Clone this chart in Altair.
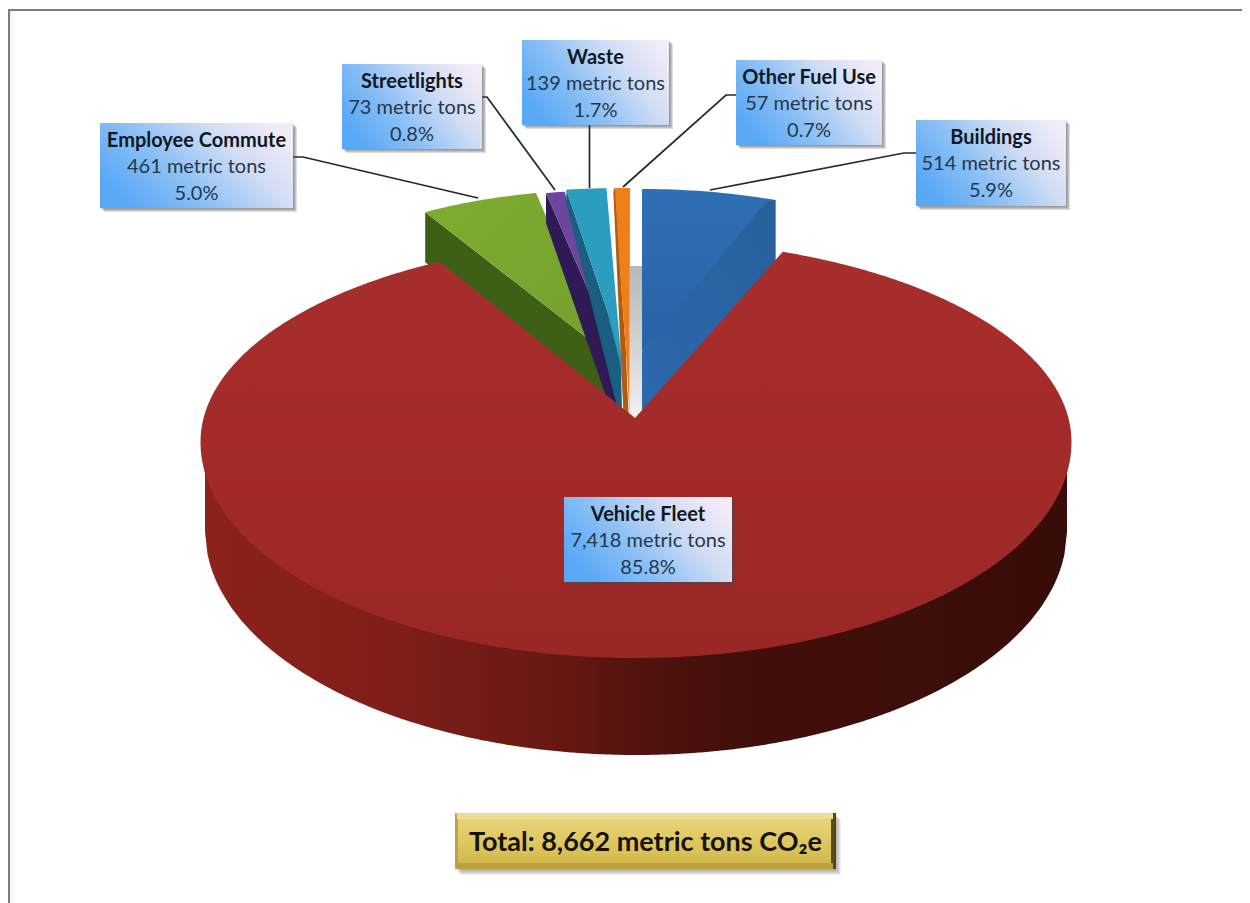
import math
import altair as alt
import pandas as pd

# ---- values ----
categories = ["Buildings", "Vehicle Fleet", "Employee Commute", "Streetlights", "Waste", "Other Fuel Use"]
tons = [514, 7418, 461, 73, 139, 57]
percent_labels = ["5.9%", "85.8%", "5.0%", "0.8%", "1.7%", "0.7%"]
total_label = "Total: 8,662 metric tons CO\u2082e"

# ---- layout (image pixels) ----
W, H = 1234, 895
sx = alt.Scale(domain=[8, 8 + W], nice=False, zero=False)
sy = alt.Scale(domain=[8 + H, 8], nice=False, zero=False)
X = lambda f="x": alt.X(f"{f}:Q", scale=sx, axis=None)
Y = lambda f="y": alt.Y(f"{f}:Q", scale=sy, axis=None)

LABEL_FONT = "Lato"


def grad(stops, x1=0, y1=0, x2=1, y2=0):
    return alt.LinearGradient(
        gradient="linear", x1=x1, y1=y1, x2=x2, y2=y2,
        stops=[alt.GradientStop(offset=o, color=c) for o, c in stops],
    )


def envelope(poly):
    """Turn an x-monotone outline into x / y / y2 rows for an area mark."""
    eps = 0.02
    xmin, xmax = min(p[0] for p in poly), max(p[0] for p in poly)
    xs = {xmin + eps, xmax - eps}
    for p in poly:
        for d in (-eps, eps):
            if xmin + eps < p[0] + d < xmax - eps:
                xs.add(p[0] + d)
    rows = []
    n = len(poly)
    for x in sorted(xs):
        ys = []
        for i in range(n):
            (x1, y1), (x2, y2) = poly[i], poly[(i + 1) % n]
            if x1 != x2 and min(x1, x2) <= x <= max(x1, x2):
                ys.append(y1 + (y2 - y1) * (x - x1) / (x2 - x1))
        if ys:
            rows.append({"x": round(x, 2), "y": round(min(ys), 2), "y2": round(max(ys), 2)})
    return pd.DataFrame(rows)


def area(poly, fill):
    return alt.Chart(envelope(poly)).mark_area(color=fill, interpolate="linear", opacity=1).encode(
        x=X(), y=Y(), y2=alt.Y2("y2:Q")
    )


def rect(x, x2, y, y2, fill, opacity=1.0):
    d = pd.DataFrame([{"x": x, "x2": x2, "y": y, "y2": y2}])
    return alt.Chart(d).mark_rect(color=fill, opacity=opacity).encode(
        x=X(), x2=alt.X2("x2:Q"), y=Y(), y2=alt.Y2("y2:Q")
    )


# ---- slice angles from the values (clockwise from 12 o'clock) ----
total = sum(tons)
angles = {}
a = 0.0
for c, t in zip(categories, tons):
    angles[c] = (a, a + 360.0 * t / total)
    a += 360.0 * t / total


def arc(cx, cy, rx, ry, a0, a1, step=1.0):
    n = max(2, int(abs(a1 - a0) / step) + 1)
    pts = []
    for i in range(n + 1):
        t = math.radians(a0 + (a1 - a0) * i / n)
        pts.append((cx + rx * math.sin(t), cy - ry * math.cos(t)))
    return pts


layers = []

# page frame
layers.append(rect(8, 8 + W, 9, 11, "#7d7d7d"))
layers.append(rect(8, 10, 9, 903, "#7d7d7d"))
layers.append(rect(10, 14, 11, 903, "#f8f8f8"))


def exploded(name, apex, rim_c, rx, ry, face, wall, d_corner, d_apex, tip=None):
    a0, a1 = angles[name]
    rim = arc(rim_c[0], rim_c[1], rx, ry, a0, a1)
    corner = rim[0]
    wall_poly = [corner, apex, (apex[0] + 2, apex[1] + d_apex), (corner[0], corner[1] + d_corner)]
    out = [area(wall_poly, wall)]
    outline = ([tip] if tip else []) + [apex] + rim
    out.append(area(outline, face))
    return out


layers += exploded("Employee Commute", (605, 352), (605, 352), 356, 162,
                   grad([(0, "#7fad30"), (1, "#72a02c")], 0, 0, 1, 1), "#3f5f17", 50, 50)
layers += exploded("Streetlights", (615, 352), (615, 352), 356, 162, "#6c459f", "#2f1a55", 30, 76)
layers += exploded("Waste", (620.5, 350), (623, 352), 400, 164, "#2b9ec0", "#1a5f80", 14, 78, tip=(624, 408))
layers += exploded("Other Fuel Use", (626, 352), (630, 352), 390, 164, "#ee7f1a", "#a85a10", 8, 66, tip=(629.5, 415))
# darker edge down the left side of the orange slice
oc = arc(630, 352, 390, 164, *angles["Other Fuel Use"])[0]
layers.append(area([(oc[0] - 0.5, oc[1] + 4), (oc[0] + 1, oc[1]), (629, 418), (623.5, 416)], "#b05c10"))

# grey inner wall seen through the gap
layers.append(rect(630, 642, 266, 420, grad([(0, "#b8b8b8"), (0.5, "#d2d2d2"), (1, "#f2f2f2")], 0, 0, 0, 1)))

# buildings
b0, b1 = angles["Buildings"]
b_rim = arc(642, 350, 367, 161, b0, b1)
b_apex = (642, 352)
layers.append(area([b_apex] + b_rim, grad([(0, "#2f6fb5"), (1, "#2a62a6")], 0, 0, 0, 1)))
bc = b_rim[-1]
layers.append(area([b_apex, (bc[0] - 9, bc[1] + 1), bc, (bc[0], bc[1] + 66), (642, 428)],
                   grad([(0, "#2d68ad"), (1, "#28609c")], 0, 1, 1, 0)))

# vehicle fleet: wall, then face
CX, CY, RX, RYU, RYL = 636, 442, 435.5, 202, 216
BX, BY, BRX, BRY = 636, 530, 431, 225


def top_y(x, lower=True):
    u = max(0.0, 1 - ((x - CX) / RX) ** 2)
    return CY + (RYL if lower else -RYU) * math.sqrt(u)


wall_rows = []
for i in range(0, 345):
    x = BX - BRX + 0.02 + (2 * BRX - 0.04) * i / 344
    v = max(0.0, 1 - ((x - BX) / BRX) ** 2)
    wall_rows.append({"x": round(x, 2), "y": round(top_y(x) - 2, 2), "y2": round(BY + BRY * math.sqrt(v), 2)})
layers.append(
    alt.Chart(pd.DataFrame(wall_rows)).mark_area(
        color=grad([(0, "#8c221b"), (0.22, "#7f1f19"), (0.42, "#661712"), (0.52, "#50120e"),
                    (0.62, "#420f0b"), (1, "#380c09")])
    ).encode(x=X(), y=Y(), y2=alt.Y2("y2:Q"))
)


def rim_angle(t):
    r = math.radians(t)
    return math.degrees(math.atan2(0.885 * math.sin(r), math.cos(r))) % 360 + 0.6


f0, f1 = angles["Vehicle Fleet"]
fleet = [(635, 418)]
ra0, ra1 = rim_angle(f0), rim_angle(f1)
steps = int(ra1 - ra0) + 1
for i in range(steps + 1):
    t = math.radians(ra0 + (ra1 - ra0) * i / steps)
    c = math.cos(t)
    fleet.append((CX + RX * math.sin(t), CY - (RYU if c > 0 else RYL) * c))
layers.append(area(fleet, grad([(0, "#a62e2c"), (0.7, "#a02a28"), (1, "#992725")], 0, 0, 0, 1)))

# ---- leader lines ----
leaders = {
    "Employee Commute": [(293, 157), (303, 157), (478, 198)],
    "Streetlights": [(482, 97), (487, 97), (555, 190)],
    "Waste": [(589.5, 122), (589.5, 188)],
    "Other Fuel Use": [(736, 95), (726, 95), (623, 187)],
    "Buildings": [(916, 153), (904, 153), (710, 190)],
}
for name, pts in leaders.items():
    d = pd.DataFrame([{"x": p[0], "y": p[1], "o": i} for i, p in enumerate(pts)])
    layers.append(
        alt.Chart(d).mark_line(color="#1f2a2a", strokeWidth=1.7).encode(x=X(), y=Y(), order="o:Q")
    )

# ---- label boxes ----
boxes = {
    "Buildings": (916, 1066, 120, 206),
    "Vehicle Fleet": (564, 732, 497, 582),
    "Employee Commute": (100, 293, 123, 208),
    "Streetlights": (342, 482, 64, 149),
    "Waste": (522, 669, 40, 125),
    "Other Fuel Use": (736, 882, 60, 145),
}
box_fill = grad([(0, "#58a8f6"), (0.35, "#8cc0f6"), (0.68, "#cfdcf4"), (1, "#f3ecf8")], 0, 0.65, 1, 0.2)
text_rows = []
for c, t, p in zip(categories, tons, percent_labels):
    x0, x1, y0, y1 = boxes[c]
    for k in range(4, 0, -1):
        layers.append(rect(x0 + k, x1 + k, y0 + k, y1 + k, "#4a4a4a", 0.18))
    layers.append(rect(x0, x1, y0, y1, box_fill))
    mid = (x0 + x1) / 2
    text_rows.append({"x": mid, "y": y0 + 17.5, "t": c, "w": "b"})
    text_rows.append({"x": mid, "y": y0 + 44, "t": f"{t:,} metric tons", "w": "r"})
    text_rows.append({"x": mid, "y": y0 + 70.5, "t": p, "w": "r"})

tdf = pd.DataFrame(text_rows)
layers.append(
    alt.Chart(tdf[tdf.w == "b"]).mark_text(
        font=LABEL_FONT, fontSize=20, fontWeight="bold", color="#10181f", align="center", baseline="middle"
    ).encode(x=X(), y=Y(), text="t:N")
)
layers.append(
    alt.Chart(tdf[tdf.w == "r"]).mark_text(
        font=LABEL_FONT, fontSize=20, color="#25384a", align="center", baseline="middle"
    ).encode(x=X(), y=Y(), text="t:N")
)

# ---- total box ----
TX0, TX1, TY0, TY1 = 455, 836, 813, 869
for k in range(6, 0, -1):
    layers.append(rect(TX0 + k, TX1 + k - 1, TY0 + k, TY1 + k, "#555555", 0.10))
layers.append(rect(TX0, TX1, TY0, TY1, grad([(0, "#bba548"), (0.5, "#c8af50"), (0.97, "#7a6720"), (1, "#4f4210")])))
layers.append(rect(TX0 + 2, TX1 - 3, TY0, TY0 + 6, "#eedd8e"))
layers.append(rect(TX0 + 2, TX1 - 3, TY1 - 6, TY1, "#bba23e"))
layers.append(rect(TX0 + 3, TX1 - 5, TY0 + 6, TY1 - 6,
                   grad([(0, "#e8d478"), (0.5, "#dfc862"), (1, "#d3b94c")], 0, 0, 0, 1)))
layers.append(
    alt.Chart(pd.DataFrame([{"x": (TX0 + TX1) / 2, "y": 842.5, "t": total_label}])).mark_text(
        font=LABEL_FONT, fontSize=27, fontWeight="bold", color="#17130a", align="center", baseline="middle"
    ).encode(x=X(), y=Y(), text="t:N")
)

chart = (
    alt.layer(*layers)
    .properties(width=W, height=H, padding=0, background="white")
    .configure_view(stroke=None)
)
chart.save("out.html", embed_options={"renderer": "svg", "actions": False})
